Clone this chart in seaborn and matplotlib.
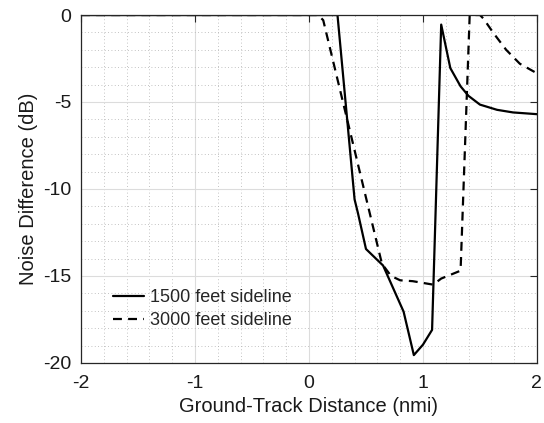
import numpy as np
import pandas as pd
import matplotlib
matplotlib.use("Agg")
import matplotlib.pyplot as plt
import seaborn as sns
from matplotlib.ticker import MultipleLocator

sns.set_theme(style="white")
plt.rcParams['font.family'] = ['Liberation Sans', 'DejaVu Sans']
plt.rcParams['axes.unicode_minus'] = False

# 1500 feet sideline
x_1500 = [-2.0, 0.25, 0.40, 0.43, 0.50, 0.65, 0.83, 0.92, 1.00, 1.08, 1.16,
          1.24, 1.33, 1.40, 1.50, 1.65, 1.79, 2.00]
y_1500 = [0.0, 0.0, -10.6, -11.4, -13.45, -14.4, -17.05, -19.55, -18.95, -18.1, -0.55,
          -3.05, -4.1, -4.65, -5.15, -5.45, -5.6, -5.7]

# 3000 feet sideline
x_3000 = [-2.0, 0.08, 0.125, 0.64, 0.72, 0.80, 0.91, 1.09, 1.16, 1.31, 1.33,
          1.41, 1.50, 1.53, 1.62, 1.73, 1.85, 2.00]
y_3000 = [0.0, 0.0, -0.3, -14.3, -15.0, -15.25, -15.3, -15.5, -15.15, -14.75, -14.7,
          0.0, 0.0, -0.2, -1.05, -2.0, -2.8, -3.35]

df_a = pd.DataFrame({"x": x_1500, "y": y_1500})
df_b = pd.DataFrame({"x": x_3000, "y": y_3000})

fig = plt.figure(figsize=(5.44, 4.23), dpi=100)
ax = fig.add_axes([0.149, 0.142, 0.838, 0.8225])

sns.lineplot(data=df_a, x="x", y="y", ax=ax, color="black", lw=1.6,
             sort=False, estimator=None, label="1500 feet sideline")
sns.lineplot(data=df_b, x="x", y="y", ax=ax, color="black", lw=1.6,
             sort=False, estimator=None, label="3000 feet sideline",
             linestyle=(0, (4, 2.8)))

ax.set_xlim(-2, 2)
ax.set_ylim(-20, 0)
ax.set_xticks([-2, -1, 0, 1, 2])
ax.set_yticks([-20, -15, -10, -5, 0])
ax.xaxis.set_minor_locator(MultipleLocator(0.2))
ax.yaxis.set_minor_locator(MultipleLocator(1))

ax.grid(True, which="major", color="#dcdcdc", lw=0.8, ls="-")
ax.grid(True, which="minor", color="#b0b0b0", lw=0.6, ls=(0, (1, 3)))
ax.set_axisbelow(True)

for s in ax.spines.values():
    s.set_visible(True)
    s.set_color("#262626")
    s.set_linewidth(0.9)

ax.tick_params(which="major", direction="in", length=5, width=0.8, colors="#262626",
               top=True, right=True, labelsize=14, labelcolor="#1a1a1a")
ax.tick_params(axis="x", which="major", pad=9)
ax.tick_params(axis="y", which="major", pad=7)
ax.tick_params(which="minor", length=0)

ax.set_xlabel("Ground-Track Distance (nmi)", fontsize=14.5, color="#1a1a1a", labelpad=3)
ax.set_ylabel("Noise Difference (dB)", fontsize=14.5, color="#1a1a1a", labelpad=4)

leg = ax.legend(loc="lower left", bbox_to_anchor=(0.042, 0.06), frameon=False,
                fontsize=13, handlelength=1.75, handletextpad=0.3, labelspacing=0.35,
                borderaxespad=0.3)

fig.savefig("out.png", dpi=100)
